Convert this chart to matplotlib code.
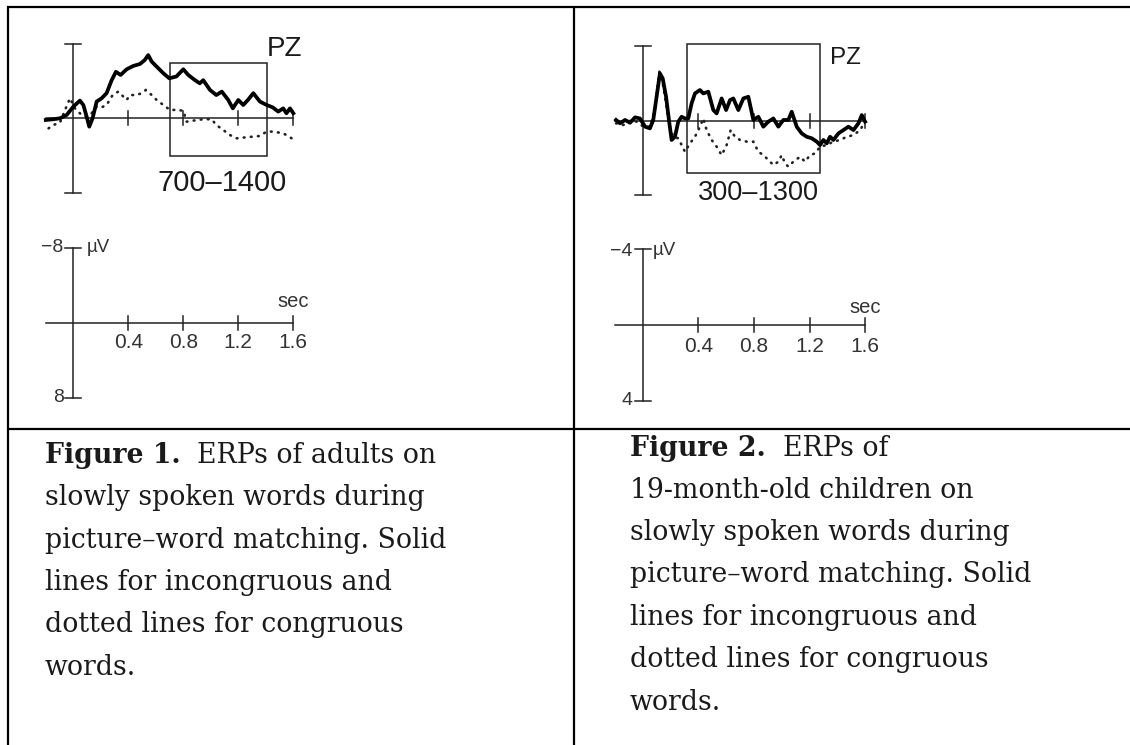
import matplotlib.pyplot as plt
from matplotlib.patches import Rectangle

W, H = 1130, 745

# Figure 1: adults (time in sec, amplitude in uV, negative plotted up)
adult_t_inc = [-0.2, -0.145, -0.097, -0.048, 0.0, 0.048, 0.073, 0.097, 0.116, 0.14, 0.17, 0.206,
               0.242, 0.279, 0.31, 0.344, 0.388, 0.436, 0.485, 0.52, 0.545, 0.57, 0.606, 0.655,
               0.698, 0.75, 0.8, 0.836, 0.885, 0.92, 0.945, 0.994, 1.04, 1.08, 1.127, 1.16,
               1.2, 1.236, 1.27, 1.309, 1.357, 1.406, 1.45, 1.49, 1.527, 1.55, 1.576, 1.6]
adult_v_inc = [0.18, 0.1, 0.0, -0.36, -1.25, -1.9, -1.43, -0.18, 0.9, 0.0, -1.8, -2.15,
               -2.7, -4.1, -5.0, -4.66, -5.27, -5.63, -5.84, -6.27, -6.8, -6.1, -5.56, -4.84,
               -4.3, -4.5, -5.27, -4.66, -4.1, -3.76, -4.1, -3.05, -2.5, -2.87, -1.97, -1.07,
               -1.97, -1.43, -1.97, -2.7, -1.8, -1.43, -1.18, -0.72, -1.07, -0.54, -1.07, -0.54]
adult_t_con = [-0.18, -0.145, -0.097, -0.06, -0.024, 0.012, 0.06, 0.097, 0.133, 0.17, 0.206,
               0.242, 0.286, 0.327, 0.364, 0.388, 0.412, 0.46, 0.497, 0.528, 0.57, 0.606, 0.655,
               0.703, 0.75, 0.8, 0.824, 0.873, 0.945, 1.006, 1.04, 1.09, 1.139, 1.188, 1.26,
               1.357, 1.406, 1.45, 1.527, 1.588]
adult_v_con = [1.08, 0.72, 0.47, -0.9, -2.15, -1.07, -0.36, -0.18, -0.54, -1.25, -1.18,
               -1.43, -2.5, -2.87, -2.33, -1.97, -2.5, -2.5, -2.7, -3.05, -2.5, -1.97, -1.43,
               -0.9, -0.9, -0.82, 0.36, 0.25, 0.1, 0.1, 0.72, 1.25, 1.8, 2.15, 2.04,
               1.9, 1.43, 1.43, 1.61, 2.15]

# Figure 2: 19-month-old children
child_t_inc = [-0.192, -0.163, -0.127, -0.091, -0.055, -0.02, 0.017, 0.052, 0.076, 0.1, 0.124,
               0.144, 0.168, 0.192, 0.208, 0.232, 0.256, 0.28, 0.304, 0.328, 0.352, 0.376,
               0.412, 0.436, 0.472, 0.508, 0.532, 0.568, 0.6, 0.628, 0.652, 0.688, 0.724,
               0.76, 0.796, 0.832, 0.868, 0.904, 0.94, 0.976, 1.012, 1.048, 1.072, 1.108,
               1.144, 1.18, 1.216, 1.252, 1.276, 1.3, 1.324, 1.348, 1.372, 1.408, 1.444,
               1.48, 1.516, 1.552, 1.576, 1.6]
child_v_inc = [-0.04, 0.14, -0.04, 0.11, -0.18, -0.12, 0.32, 0.41, -0.04, -1.28, -2.53,
               -2.26, -1.28, 0.14, 1.03, 0.86, 0.05, -0.21, -0.12, -0.12, -0.93, -1.46,
               -1.64, -1.46, -1.55, -0.57, -0.39, -1.19, -0.57, -1.1, -1.19, -0.57, -1.19,
               -1.28, -0.04, -0.21, 0.32, 0.05, -0.12, 0.32, -0.04, -0.04, -0.48, 0.32,
               0.68, 0.86, 0.94, 1.12, 1.3, 1.03, 1.21, 0.86, 1.03, 0.68, 0.5,
               0.32, 0.5, 0.14, -0.3, 0.05]
child_t_con = [-0.192, -0.139, -0.091, -0.043, 0.005, 0.052, 0.088, 0.12, 0.144, 0.168, 0.192,
               0.22, 0.256, 0.28, 0.304, 0.34, 0.376, 0.412, 0.436, 0.46, 0.496, 0.532,
               0.568, 0.604, 0.633, 0.664, 0.7, 0.748, 0.796, 0.832, 0.868, 0.904, 0.94,
               0.976, 1.0, 1.024, 1.048, 1.084, 1.132, 1.168, 1.204, 1.24, 1.276, 1.324,
               1.372, 1.42, 1.468, 1.516, 1.564, 1.6]
child_v_con = [0.14, 0.23, 0.0, 0.05, 0.32, 0.32, -0.57, -2.62, -2.0, -0.93, 0.32,
               0.86, 0.94, 1.3, 1.66, 1.21, 0.86, 0.32, -0.12, 0.5, 1.03, 1.39,
               1.84, 1.3, 0.5, 0.86, 1.03, 1.12, 1.12, 1.66, 1.84, 2.1, 2.37,
               2.19, 1.84, 2.28, 2.46, 2.19, 1.93, 2.19, 1.84, 1.75, 1.39, 1.3,
               1.12, 1.03, 0.86, 0.77, 0.5, 0.05]

sec_ticks = [0.4, 0.8, 1.2, 1.6]
sec_labels = ["0.4", "0.8", "1.2", "1.6"]

caption1 = ["slowly spoken words during",
            "picture\u2013word matching. Solid",
            "lines for incongruous and",
            "dotted lines for congruous",
            "words."]
caption2 = ["19-month-old children on",
            "slowly spoken words during",
            "picture\u2013word matching. Solid",
            "lines for incongruous and",
            "dotted lines for congruous",
            "words."]

SANS = "Liberation Sans"
SERIF = "DejaVu Serif"
INK = "#1a1a1a"
CAP_FS = 19.3

fig = plt.figure(figsize=(W / 100, H / 100), dpi=100)


def px_axes(x0, ppx, zero_y, ppv, vlim):
    # axes placed so that t=0 sits at pixel x0 and 0 uV at pixel zero_y
    left = x0 - 0.25 * ppx
    width = 2.0 * ppx
    top = zero_y - vlim * ppv
    height = 2 * vlim * ppv
    ax = fig.add_axes([left / W, 1 - (top + height) / H, width / W, height / H])
    ax.set_xlim(-0.25, 1.75)
    ax.set_ylim(vlim, -vlim)
    ax.axis("off")
    ax.patch.set_alpha(0)
    return ax


def scale_frame(ax, vmax, ppx, ppv):
    cap = 8 / ppx
    tk = 7 / ppv
    ax.plot([0, 0], [-vmax, vmax], color="#222", lw=1.1)
    ax.plot([-cap, cap], [-vmax, -vmax], color="#222", lw=1.1)
    ax.plot([-cap, cap], [vmax, vmax], color="#222", lw=1.1)
    ax.plot([-0.2, 1.6], [0, 0], color="#222", lw=1.1)
    for t in sec_ticks:
        ax.plot([t, t], [-tk, tk], color="#222", lw=1.1)


# background axes for the table frame and captions
bg = fig.add_axes([0, 0, 1, 1])
bg.set_xlim(0, W)
bg.set_ylim(H, 0)
bg.axis("off")
frame_kw = dict(color="black", lw=1.6, solid_capstyle="butt")
bg.plot([7, W], [6.5, 6.5], **frame_kw)
bg.plot([7.5, 7.5], [6, H], **frame_kw)
bg.plot([574, 574], [6, H], **frame_kw)
bg.plot([7, W], [429, 429], **frame_kw)

# captions
bg.text(45, 462.7, "Figure 1.", family=SERIF, weight="bold", fontsize=CAP_FS, color=INK, va="baseline")
bg.text(197, 462.7, "ERPs of adults on", family=SERIF, fontsize=CAP_FS, color=INK, va="baseline")
for i, line in enumerate(caption1):
    bg.text(45, 505 + i * 42.5, line, family=SERIF, fontsize=CAP_FS, color=INK, va="baseline")

bg.text(630, 455.7, "Figure 2.", family=SERIF, weight="bold", fontsize=CAP_FS, color=INK, va="baseline")
bg.text(783, 455.7, "ERPs of", family=SERIF, fontsize=CAP_FS, color=INK, va="baseline")
for i, line in enumerate(caption2):
    bg.text(630, 497.7 + i * 42.4, line, family=SERIF, fontsize=CAP_FS, color=INK, va="baseline")

dot_style = dict(color="#222", lw=1.9, ls=(0, (0.3, 2.4)), dash_capstyle="round")

# ---- Figure 1 ERP ----
ax1 = px_axes(73.3, 137.5, 118.3, 9.3, 9.5)
scale_frame(ax1, 8, 137.5, 9.3)
ax1.add_patch(Rectangle((0.7, -5.9), 0.71, 9.95, fill=False, ec="#222", lw=1.1))
ax1.plot(adult_t_con, adult_v_con, **dot_style)
ax1.plot(adult_t_inc, adult_v_inc, color="black", lw=2.7, solid_joinstyle="round")
ax1.text(1.405, -7.5, "PZ", family=SANS, fontsize=20, color=INK, ha="left", va="center")
ax1.text(1.08, 6.95, "700\u20131400", family=SANS, fontsize=21, color=INK, ha="center", va="center")

# ---- Figure 1 scale ----
ax1s = px_axes(73.3, 137.5, 322.7, 9.37, 9.5)
scale_frame(ax1s, 8, 137.5, 9.37)
for t, lab in zip(sec_ticks, sec_labels):
    ax1s.text(t, 2.1, lab, family=SANS, fontsize=15, color="#333", ha="center", va="center")
ax1s.text(1.6, -2.3, "sec", family=SANS, fontsize=14.5, color="#333", ha="center", va="center")
ax1s.text(-0.07, -8, "\u22128", family=SANS, fontsize=14, color="#333", ha="right", va="center")
ax1s.text(-0.07, 8, "8", family=SANS, fontsize=14, color="#333", ha="right", va="center")
ax1s.text(0.095, -8, "\u00b5V", family=SANS, fontsize=13.5, color="#333", ha="left", va="center")

# ---- Figure 2 ERP ----
ax2 = px_axes(642.7, 139, 120.7, 18.7, 5)
scale_frame(ax2, 4, 139, 18.7)
ax2.add_patch(Rectangle((0.32, -4.1), 0.955, 6.88, fill=False, ec="#222", lw=1.1))
ax2.plot(child_t_con, child_v_con, **dot_style)
ax2.plot(child_t_inc, child_v_inc, color="black", lw=2.7, solid_joinstyle="round")
ax2.text(1.345, -3.35, "PZ", family=SANS, fontsize=17.5, color=INK, ha="left", va="center")
ax2.text(0.836, 3.88, "300\u20131300", family=SANS, fontsize=19.5, color=INK, ha="center", va="center")

# ---- Figure 2 scale ----
ax2s = px_axes(642.7, 139, 325, 18.9, 5)
scale_frame(ax2s, 4, 139, 18.9)
for t, lab in zip(sec_ticks, sec_labels):
    ax2s.text(t, 1.14, lab, family=SANS, fontsize=15, color="#333", ha="center", va="center")
ax2s.text(1.6, -0.95, "sec", family=SANS, fontsize=14.5, color="#333", ha="center", va="center")
ax2s.text(-0.075, -3.9, "\u22124", family=SANS, fontsize=14, color="#333", ha="right", va="center")
ax2s.text(-0.075, 4.0, "4", family=SANS, fontsize=14, color="#333", ha="right", va="center")
ax2s.text(0.075, -3.95, "\u00b5V", family=SANS, fontsize=13.5, color="#333", ha="left", va="center")

fig.savefig("out.png", dpi=100)
